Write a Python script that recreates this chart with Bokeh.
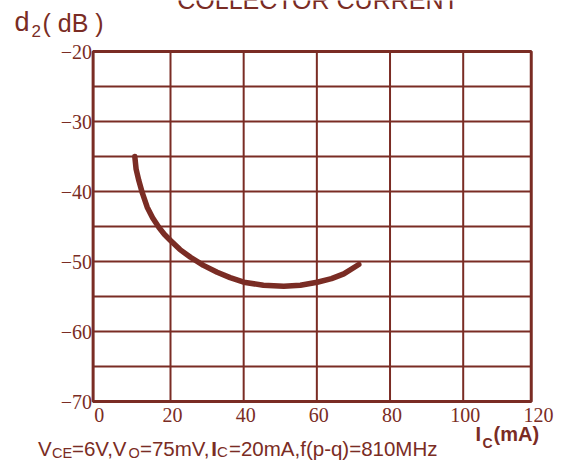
from bokeh.plotting import figure
from bokeh.models import Range1d
from bokeh.core.properties import value
from bokeh.embed import file_html
from bokeh.resources import INLINE

# ---- data ----
ic_ma = [10.24, 10.6, 11.34, 12.3, 13.63, 15.1, 16.8, 18.3, 20.0, 22.6, 25.47,
         29.0, 32.76, 36.3, 40.03, 45.4, 50.97, 55.5, 60.09, 64.0, 67.36, 71.46]
d2_db = [-35.0, -36.8, -38.43, -40.2, -42.24, -43.75, -45.1, -46.1, -47.0, -48.3,
         -49.39, -50.55, -51.53, -52.3, -52.96, -53.4, -53.53, -53.4, -52.96,
         -52.45, -51.76, -50.43]

x_ticks = [0, 20, 40, 60, 80, 100, 120]
x_tick_labels = ["0", "20", "40", "60", "80", "100", "120"]
y_ticks = [-70, -60, -50, -40, -30, -20]
y_tick_labels = ["\u221270", "\u221260", "\u221250", "\u221240", "\u221230", "\u221220"]
x_grid = [20, 40, 60, 80, 100]
y_grid = [-65, -60, -55, -50, -45, -40, -35, -30, -25]
x_lo, x_hi = -1.15, 118.6     # plot box limits (mA)
y_lo, y_hi = -70, -20         # plot box limits (dB)

title_text = "COLLECTOR CURRENT"
caption_parts = [("V", "main"), ("CE", "sub"), ("=6V,V", "main"), ("O", "sub"),
                 ("=75mV,", "main"), ("I", "bold"), ("C", "small"),
                 ("=20mA,f(p-q)=810MHz", "main")]

COLOR = "#7a2c24"
SANS = "Liberation Sans"
SERIF = "Liberation Serif"
W, H = 561, 467

# data ranges spanning the whole canvas (20 mA = 73.2 px, 1 dB = 7 px)
sx = 292.7 / 80.0
sy = 7.0
xr = Range1d(20 - 170 / sx, 20 + (W - 170) / sx)
yr = Range1d(-70 - (H - 401) / sy, -20 + 51 / sy)

p = figure(width=W, height=H, output_backend="svg", toolbar_location=None,
           x_range=xr, y_range=yr, x_axis_location=None, y_axis_location=None,
           min_border=0)
p.extra_x_ranges = {"px": Range1d(0, W)}
p.extra_y_ranges = {"px": Range1d(H, 0)}
p.grid.visible = False
p.outline_line_color = None
p.background_fill_color = "white"
p.border_fill_color = "white"

# grid
p.segment(x0=x_grid, y0=[y_lo] * len(x_grid), x1=x_grid, y1=[y_hi] * len(x_grid),
          line_color=COLOR, line_width=2)
p.segment(x0=[x_lo] * len(y_grid), y0=y_grid, x1=[x_hi] * len(y_grid), y1=y_grid,
          line_color=COLOR, line_width=2)
# plot box
p.quad(left=[x_lo], right=[x_hi], bottom=[y_lo], top=[y_hi], fill_color=None,
       line_color=COLOR, line_width=3)

# curve
p.line(ic_ma, d2_db, line_width=5.5, line_color=COLOR,
       line_cap="round", line_join="round")

# tick labels
p.text(x=[x_lo] * len(y_ticks), y=y_ticks, text=y_tick_labels, x_offset=-1,
       text_font=value(SERIF), text_font_size="20px", text_color=COLOR,
       text_align="right", text_baseline="middle")
p.text(x=x_ticks, y=[y_lo] * len(x_ticks), text=x_tick_labels, x_offset=2, y_offset=6,
       text_font=value(SERIF), text_font_size="20px", text_color=COLOR,
       text_align="center", text_baseline="top")

def ptext(x, base, txt, size, style="normal", align="left", font=SANS):
    # place text so that its baseline lands at `base` (canvas px from top)
    y = base - 0.41 * size
    p.text(x=[x], y=[y], text=[txt], x_range_name="px", y_range_name="px",
           text_font=value(font), text_font_size=f"{size}px", text_font_style=style,
           text_color=COLOR, text_align=align, text_baseline="alphabetic")

# title (cut at the top edge as in the reference)
ptext(317.5, 10, title_text, 25, align="center")

# y axis title: d2( dB )
ptext(14, 33, "d", 27)
ptext(31, 37.5, "2", 17)
ptext(42, 33, "( dB )", 25)

# x axis title: Ic(mA)
ptext(475, 442, "I", 20, style="bold")
ptext(482, 448, "C", 14, style="bold")
ptext(493, 442, "(mA)", 20, style="bold")

# caption
cap_x = [37.5, 51.5, 71.5, 128, 139.5, 210.7, 216.4, 228.5]
for (txt, kind), cx in zip(caption_parts, cap_x):
    if kind == "main":
        ptext(cx, 456, txt, 20.5)
    elif kind == "sub":
        ptext(cx, 458.5, txt, 14.5)
    elif kind == "bold":
        ptext(cx, 456, txt, 20.5, style="bold")
    else:
        ptext(cx, 457, txt, 15)

open("out.html", "w").write(file_html(p, INLINE))
